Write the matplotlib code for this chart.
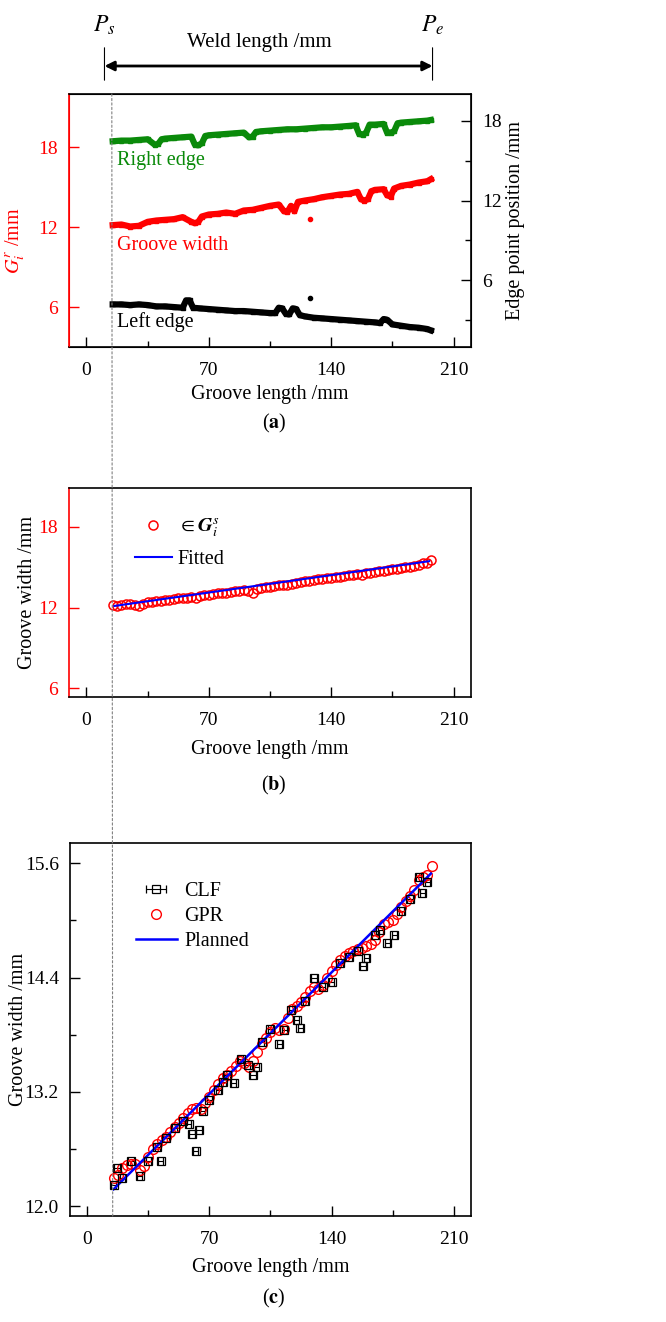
import matplotlib
matplotlib.use('Agg')
import matplotlib.pyplot as plt
from matplotlib.patches import ConnectionPatch
from matplotlib.ticker import MultipleLocator, FormatStrFormatter

plt.rcParams['font.family'] = ['Liberation Serif', 'DejaVu Serif']
plt.rcParams['mathtext.fontset'] = 'stix'

# ---- panel (a): measured edges and groove width ----
gw_x = [15, 20, 25, 30, 35, 40, 45, 50, 55, 60, 62, 64, 66, 70, 75, 80, 85, 90, 95, 100,
        105, 110, 113, 115, 117, 119, 121, 125, 130, 135, 140, 145, 150, 155, 157, 159, 161,
        163, 165, 170, 172, 174, 176, 180, 185, 190, 195, 197]
gw_y = [12.15, 12.2, 12.05, 12.1, 12.4, 12.5, 12.55, 12.6, 12.75, 12.4, 12.3, 12.4, 12.8,
        12.95, 13.0, 13.1, 13.0, 13.25, 13.3, 13.45, 13.6, 13.7, 13.2, 13.15, 13.6, 13.2,
        13.9, 14.0, 14.1, 14.25, 14.35, 14.45, 14.5, 14.65, 14.1, 14.0, 14.1, 14.7, 14.8,
        14.85, 14.4, 14.3, 14.9, 15.1, 15.2, 15.35, 15.45, 15.6]
gw_out = (128, 12.65)

re_x = [15, 20, 25, 30, 35, 39, 41, 43, 45, 50, 55, 60, 62, 64, 66, 68, 70, 75, 80, 85, 90,
        93, 95, 97, 100, 105, 110, 115, 120, 125, 130, 135, 140, 145, 150, 154, 156, 158,
        160, 162, 165, 170, 172, 174, 176, 178, 180, 185, 190, 195, 197]
re_y = [16.45, 16.5, 16.5, 16.55, 16.6, 16.2, 16.25, 16.6, 16.65, 16.7, 16.75, 16.8, 16.2,
        16.15, 16.3, 16.85, 16.9, 16.95, 17.0, 17.05, 17.1, 16.75, 16.8, 17.15, 17.2, 17.25,
        17.3, 17.35, 17.35, 17.4, 17.45, 17.5, 17.5, 17.55, 17.6, 17.65, 17.0, 16.95, 17.1,
        17.7, 17.7, 17.75, 17.1, 17.1, 17.2, 17.8, 17.85, 17.9, 17.95, 18.0, 18.05]

le_x = [15, 20, 25, 30, 35, 40, 45, 50, 55, 57, 59, 61, 65, 70, 75, 80, 85, 90, 95, 100,
        105, 108, 110, 112, 114, 116, 118, 120, 122, 125, 130, 135, 140, 145, 150, 155, 160,
        165, 168, 170, 172, 175, 180, 185, 190, 195, 197]
le_y = [4.2, 4.2, 4.15, 4.2, 4.15, 4.05, 4.05, 4.0, 3.95, 4.5, 4.5, 3.95, 3.9, 3.85, 3.8,
        3.75, 3.7, 3.7, 3.65, 3.6, 3.55, 3.55, 3.95, 3.9, 3.5, 3.45, 3.9, 3.85, 3.4, 3.3,
        3.2, 3.15, 3.1, 3.05, 3.0, 2.95, 2.9, 2.85, 2.8, 3.1, 3.05, 2.7, 2.6, 2.5, 2.45,
        2.35, 2.25]
le_out = (128, 4.65)

# ---- panel (b): selected groove width and fit ----
gs_x = [15, 17.5, 20, 22.5, 25, 27.5, 30, 32.5, 35, 37.5, 40, 42.5, 45, 47.5, 50, 52.5, 55,
        57.5, 60, 62.5, 65, 67.5, 70, 72.5, 75, 77.5, 80, 82.5, 85, 87.5, 90, 92.5, 95,
        97.5, 100, 102.5, 105, 107.5, 110, 112.5, 115, 117.5, 120, 122.5, 125, 127.5, 130,
        132.5, 135, 137.5, 140, 142.5, 145, 147.5, 150, 152.5, 155, 157.5, 160, 162.5, 165,
        167.5, 170, 172.5, 175, 177.5, 180, 182.5, 185, 187.5, 190, 192.5, 195, 197]
gs_y = [12.2, 12.12, 12.22, 12.28, 12.3, 12.2, 12.15, 12.3, 12.4, 12.45, 12.5, 12.52,
        12.55, 12.6, 12.65, 12.68, 12.7, 12.72, 12.75, 12.72, 12.85, 12.9, 12.95, 13.0,
        13.05, 13.08, 13.1, 13.15, 13.2, 13.25, 13.3, 13.2, 13.05, 13.35, 13.45, 13.5,
        13.55, 13.6, 13.65, 13.68, 13.7, 13.75, 13.8, 13.88, 13.95, 14.0, 14.05, 14.1,
        14.15, 14.18, 14.2, 14.25, 14.3, 14.35, 14.4, 14.45, 14.5, 14.45, 14.55, 14.6,
        14.65, 14.7, 14.75, 14.8, 14.85, 14.9, 14.95, 15.0, 15.05, 15.12, 15.2, 15.28,
        15.35, 15.55]
fit_x = [16, 196]
fit_y = [12.12, 15.45]

# ---- panel (c): CLF, GPR and planned width ----
gpr_x = [15, 17.5, 20, 22.5, 25, 27.5, 30, 32.5, 35, 37.5, 40, 42.5, 45, 47.5, 50, 52.5, 55,
         57.5, 60, 62.5, 65, 67.5, 70, 72.5, 75, 77.5, 80, 82.5, 85, 87.5, 90, 92.5, 95,
         97.5, 100, 102.5, 105, 107.5, 110, 112.5, 115, 117.5, 120, 122.5, 125, 127.5, 130,
         132.5, 135, 137.5, 140, 142.5, 145, 147.5, 150, 152.5, 155, 157.5, 160, 162.5, 165,
         167.5, 170, 172.5, 175, 177.5, 180, 182.5, 185, 187.5, 190, 192.5, 195, 197.5]
gpr_y = [12.3, 12.33, 12.4, 12.43, 12.45, 12.44, 12.38, 12.42, 12.52, 12.6, 12.65, 12.7,
         12.73, 12.78, 12.83, 12.88, 12.93, 12.98, 13.02, 13.03, 13.02, 13.08, 13.15, 13.22,
         13.28, 13.35, 13.38, 13.42, 13.47, 13.52, 13.5, 13.46, 13.52, 13.62, 13.7, 13.77,
         13.83, 13.87, 13.85, 13.86, 13.98, 14.07, 14.1, 14.14, 14.2, 14.26, 14.3, 14.28,
         14.32, 14.4, 14.47, 14.53, 14.58, 14.63, 14.66, 14.68, 14.7, 14.71, 14.73, 14.75,
         14.79, 14.88, 14.96, 14.98, 15.0, 15.07, 15.14, 15.2, 15.25, 15.32, 15.42, 15.45,
         15.48, 15.57]
clf_x = [15, 17, 20, 25, 30, 35, 40, 42, 45, 50, 55, 58, 60, 62, 64, 66, 70, 75, 78, 80, 84,
         88, 92, 95, 97, 100, 105, 110, 113, 117, 120, 122, 125, 130, 135, 140, 145, 150,
         155, 158, 160, 165, 168, 172, 176, 180, 185, 190, 192, 195]
clf_y = [12.22, 12.4, 12.3, 12.48, 12.32, 12.48, 12.62, 12.48, 12.72, 12.82, 12.9, 12.86,
         12.76, 12.58, 12.8, 13.0, 13.12, 13.22, 13.3, 13.38, 13.29, 13.55, 13.48, 13.38,
         13.46, 13.72, 13.86, 13.7, 13.85, 14.06, 13.95, 13.87, 14.15, 14.4, 14.3, 14.35,
         14.55, 14.62, 14.68, 14.52, 14.6, 14.85, 14.9, 14.76, 14.85, 15.1, 15.22, 15.45,
         15.29, 15.4]
plan_x = [15, 197]
plan_y = [12.18, 15.49]

x_start = 14.5

TICK = 14
LAB = 14.5
H = 1322

fig = plt.figure(figsize=(6.66, 13.22), dpi=100)


def style_x(ax, lpad):
    ax.set_xlim(-10, 220)
    ax.xaxis.set_major_locator(MultipleLocator(70))
    ax.xaxis.set_minor_locator(MultipleLocator(35))
    ax.set_xlabel('Groove length /mm', fontsize=LAB, labelpad=lpad)
    ax.tick_params(axis='x', which='major', direction='in', length=7, width=1,
                   labelsize=TICK, pad=11)
    ax.tick_params(axis='x', which='minor', direction='in', length=4, width=1)
    for s in ax.spines.values():
        s.set_linewidth(1.2)


def red_left(ax):
    ax.spines['left'].set_color('red')
    ax.tick_params(axis='y', which='both', direction='in', colors='red', length=7,
                   width=1, labelsize=TICK, pad=8)


# (a)
ax_a = fig.add_axes([0.1036, 0.7375, 0.6036, 0.1914])
ax_a2 = ax_a.twinx()
style_x(ax_a, 4)
ax_a.set_ylim(3, 22)
ax_a.yaxis.set_major_locator(MultipleLocator(6))
red_left(ax_a)
ax_a.set_ylabel(r'$G_i^r$ /mm', color='red', fontsize=LAB)
ax_a.yaxis.set_label_coords(-0.104, 0.42)
ax_a.plot(gw_x, gw_y, color='red', lw=4.5, marker='s', ms=3)
ax_a.plot(*gw_out, 'o', color='red', ms=3)

ax_a2.set_ylim(1, 20)
ax_a2.yaxis.set_major_locator(MultipleLocator(6))
ax_a2.yaxis.set_minor_locator(MultipleLocator(3))
ax_a2.tick_params(axis='y', which='major', direction='in', length=7, width=1,
                  labelsize=TICK, pad=8)
ax_a2.tick_params(axis='y', which='minor', direction='in', length=4, width=1)
ax_a2.spines['left'].set_color('red')
ax_a2.set_ylabel('Edge point position /mm', fontsize=LAB)
ax_a2.yaxis.set_label_coords(1.088, 0.5)
ax_a2.plot(re_x, re_y, color='#0a8a0a', lw=4.5, marker='s', ms=3)
ax_a2.plot(le_x, le_y, color='black', lw=4.5, marker='s', ms=3)
ax_a2.plot(*le_out, 'o', color='black', ms=3)

ax_a.text(17.5, 17.0, 'Right edge', color='#0a8a0a', fontsize=14.5, va='center')
ax_a.text(17.5, 10.6, 'Groove width', color='red', fontsize=14.5, va='center')
ax_a.text(17.5, 4.85, 'Left edge', color='black', fontsize=14.5, va='center')

# weld length annotation above (a)
ps_x = 10.3
pe_x = 198
for xv in (ps_x, pe_x):
    ax_a.annotate('', xy=(xv, 1 - 83 / H), xytext=(xv, 1 - 45 / H),
                  xycoords=('data', 'figure fraction'), textcoords=('data', 'figure fraction'),
                  arrowprops=dict(arrowstyle='-', color='black', lw=0.8), annotation_clip=False)
ax_a.annotate('', xy=(ps_x, 1 - 66 / H), xytext=(pe_x, 1 - 66 / H),
              xycoords=('data', 'figure fraction'), textcoords=('data', 'figure fraction'),
              arrowprops=dict(arrowstyle='<|-|>', color='black', lw=2, mutation_scale=14,
                              shrinkA=0, shrinkB=0),
              annotation_clip=False)
ax_a.annotate('Weld length /mm', xy=(99, 1 - 43 / H), xycoords=('data', 'figure fraction'),
              ha='center', va='center', fontsize=15, annotation_clip=False)
ax_a.annotate(r'$P_s$', xy=(ps_x, 1 - 25 / H), xycoords=('data', 'figure fraction'),
              ha='center', va='center', fontsize=17, annotation_clip=False)
ax_a.annotate(r'$P_e$', xy=(pe_x, 1 - 25 / H), xycoords=('data', 'figure fraction'),
              ha='center', va='center', fontsize=17, annotation_clip=False)

# (b)
ax_b = fig.add_axes([0.1036, 0.4728, 0.6036, 0.1581])
style_x(ax_b, 8)
ax_b.set_ylim(5.35, 20.9)
ax_b.yaxis.set_major_locator(MultipleLocator(6))
red_left(ax_b)
ax_b.set_ylabel('Groove width /mm', fontsize=LAB)
ax_b.yaxis.set_label_coords(-0.08, 0.5)
ax_b.plot(gs_x, gs_y, 'o', mfc='none', mec='red', ms=6.5, mew=1.1,
          label=r'$\in \mathbfit{G}_i^s$')
ax_b.plot(fit_x, fit_y, color='blue', lw=1.5, label='Fitted')
ax_b.legend(loc='upper left', bbox_to_anchor=(0.12, 0.95), frameon=False, fontsize=14.5,
            handlelength=1.8, handletextpad=0.3, labelspacing=0.5)

# (c)
ax_c = fig.add_axes([0.1051, 0.0802, 0.6021, 0.2821])
style_x(ax_c, 7)
ax_c.set_ylim(11.9, 15.81)
ax_c.yaxis.set_major_locator(MultipleLocator(1.2))
ax_c.yaxis.set_minor_locator(MultipleLocator(0.6))
ax_c.yaxis.set_major_formatter(FormatStrFormatter('%.1f'))
ax_c.tick_params(axis='y', which='major', direction='in', length=7, width=1,
                 labelsize=TICK, pad=8)
ax_c.tick_params(axis='y', which='minor', direction='in', length=4, width=1)
ax_c.set_ylabel('Groove width /mm', fontsize=LAB)
ax_c.yaxis.set_label_coords(-0.105, 0.5)
h_clf = ax_c.errorbar(clf_x, clf_y, xerr=1.5, fmt='s', mfc='none', mec='black',
                      ecolor='black', ms=6, mew=0.9, elinewidth=0.8, capsize=3, label='CLF')
h_gpr, = ax_c.plot(gpr_x, gpr_y, 'o', mfc='none', mec='red', ms=7, mew=1.0, label='GPR')
h_plan, = ax_c.plot(plan_x, plan_y, color='blue', lw=1.8, label='Planned')
ax_c.legend([h_clf, h_gpr, h_plan], ['CLF', 'GPR', 'Planned'], loc='upper left',
            bbox_to_anchor=(0.12, 0.945), frameon=False, fontsize=14.5,
            handlelength=2.0, handletextpad=0.4, labelspacing=0.3)

# dashed start line through all panels
con = ConnectionPatch(xyA=(x_start, 22), coordsA=ax_a.transData,
                      xyB=(x_start, 11.9), coordsB=ax_c.transData,
                      color='grey', lw=0.8, linestyle=(0, (2, 2)), zorder=10)
fig.add_artist(con)

fig.text(274 / 666, 1 - 423 / H, r'($\mathbf{a}$)', ha='center', va='center', fontsize=LAB)
fig.text(274 / 666, 1 - 785 / H, r'($\mathbf{b}$)', ha='center', va='center', fontsize=LAB)
fig.text(274 / 666, 1 - 1298 / H, r'($\mathbf{c}$)', ha='center', va='center', fontsize=LAB)

fig.savefig('out.png', dpi=100)
